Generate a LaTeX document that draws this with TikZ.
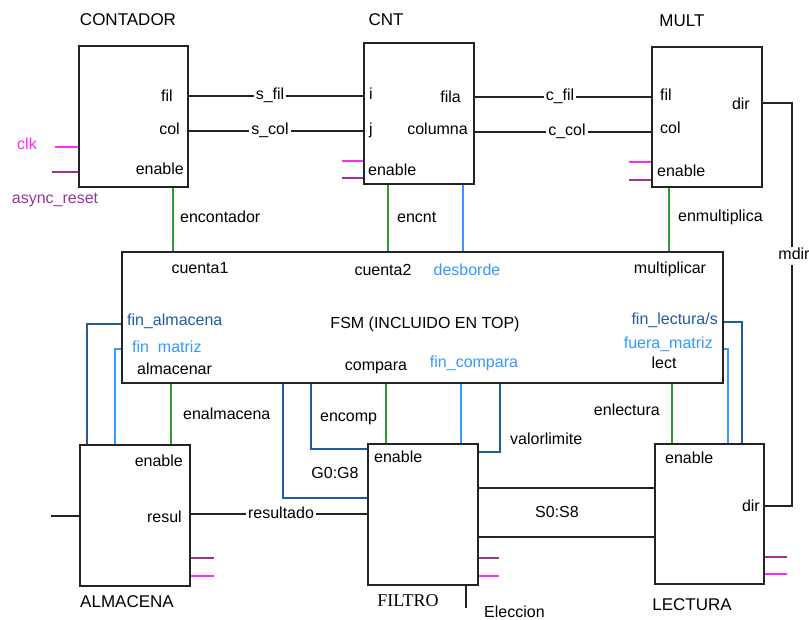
\documentclass[tikz,border=0pt]{standalone}
\usepackage{fontspec}
\setmainfont{Liberation Sans}
\newfontfamily\serifft{Liberation Serif}
\definecolor{mag}{RGB}{255,40,255}
\definecolor{pur}{RGB}{153,51,153}
\definecolor{grn}{RGB}{51,153,51}
\definecolor{lblue}{RGB}{51,153,255}
\definecolor{dblue}{RGB}{36,90,160}
\definecolor{lin}{RGB}{35,35,35}
\begin{document}
\begin{tikzpicture}[x=1pt,y=-1pt,
  every node/.style={font=\fontsize{16}{18}\selectfont, inner sep=0pt, text height=11pt, text depth=3pt},
  box/.style={draw=lin, line width=2pt, fill=white},
  wire/.style={draw=lin, line width=1.9pt},
  cw/.style={line width=1.9pt},
  wl/.style={inner sep=2pt},
  ttl/.style={font=\fontsize{17}{19}\selectfont}]
\useasboundingbox (0,0) rectangle (809,620);
% boxes
\node[box,minimum width=109pt,minimum height=141pt] (contador) at (133.5,116.5) {};
\node[box,minimum width=110pt,minimum height=141pt] (cnt) at (419,113.5) {};
\node[box,minimum width=110pt,minimum height=140pt] (mult) at (707,117) {};
\node[box,minimum width=601pt,minimum height=131pt] (fsm) at (422.5,317.5) {};
\node[box,minimum width=110pt,minimum height=141pt] (almacena) at (135,515.5) {};
\node[box,minimum width=110pt,minimum height=141pt] (filtro) at (423,514.5) {};
\node[box,minimum width=109pt,minimum height=140pt] (lectura) at (709.5,514) {};
% titles
\node[ttl] (tcontador) at (128,22) {CONTADOR};
\node[ttl] (tcnt) at (386,22) {CNT};
\node[ttl] (tmult) at (682,23) {MULT};
\node[ttl] (talmacena) at (127,603) {ALMACENA};
\node[font=\serifft\fontsize{18}{20}\selectfont] (tfiltro) at (408,602) {FILTRO};
\node[ttl] (tlectura) at (692,606) {LECTURA};
% port labels
\node[anchor=east] (p1) at (173,98) {fil};
\node[anchor=east] (p2) at (180,131) {col};
\node[anchor=east] (p3) at (184,171) {enable};
\node[anchor=west] (p4) at (369,96) {i};
\node[anchor=west] (p5) at (369,131) {j};
\node[anchor=west] (p6) at (368,172) {enable};
\node[anchor=east] (p7) at (461,99) {fila};
\node[anchor=east] (p8) at (468,131) {columna};
\node[anchor=west] (p9) at (660,97) {fil};
\node[anchor=west] (p10) at (660,130) {col};
\node[anchor=west] (p11) at (657,173) {enable};
\node[anchor=east] (p12) at (750,106) {dir};
\node[anchor=east] (p13) at (183,462) {enable};
\node[anchor=east] (p14) at (182,518) {resul};
\node[anchor=west] (p15) at (374,458) {enable};
\node[anchor=west] (p16) at (665,459) {enable};
\node[anchor=east] (p17) at (760,507) {dir};
% FSM labels
\node (f1) at (200,270) {cuenta1};
\node (f2) at (383,272) {cuenta2};
\node[text=lblue] (f3) at (467,272) {desborde};
\node (f4) at (670,270) {multiplicar};
\node (f5) at (425,325) {FSM (INCLUIDO EN TOP)};
\node[anchor=west,text=dblue] (f6) at (127,322) {fin\_almacena};
\node[anchor=west,text=lblue] (f7) at (132,349) {fin\ \ matriz};
\node[anchor=west] (f8) at (137,370) {almacenar};
\node (f9) at (376,367) {compara};
\node[text=lblue] (f10) at (474,364) {fin\_compara};
\node[anchor=east,text=dblue] (f11) at (718,321) {fin\_lectura/s};
\node[anchor=east,text=lblue] (f12) at (713,345) {fuera\_matriz};
\node (f13) at (664,365) {lect};
% other labels
\node[text=mag] (clk) at (27,146) {clk};
\node[text=pur] (ares) at (55,200) {async\_reset};
\node[anchor=west] (l1) at (180,219) {encontador};
\node[anchor=west] (l2) at (397,219) {encnt};
\node[anchor=west] (l3) at (678,218) {enmultiplica};
\node[anchor=west] (l4) at (183,415) {enalmacena};
\node[anchor=west] (l5) at (320,417) {encomp};
\node[anchor=east] (l6) at (660,412) {enlectura};
\node[anchor=west] (l7) at (510,440) {valorlimite};
\node (l8) at (335,474) {G0:G8};
\node (l9) at (557,513) {S0:S8};
\node[anchor=west] (l10) at (484,613) {Eleccion};
% top wires
\node[wl] (sfil) at (270,96) {s\_fil};
\node[wl] (scol) at (270,131) {s\_col};
\node[wl] (cfil) at (560,97) {c\_fil};
\node[wl] (ccol) at (567,132) {c\_col};
\draw[wire] (contador.east |- sfil) -- (sfil.west);
\draw[wire] (sfil.east) -- (cnt.west |- sfil);
\draw[wire] (contador.east |- scol) -- (scol.west);
\draw[wire] (scol.east) -- (cnt.west |- scol);
\draw[wire] (cnt.east |- cfil) -- (cfil.west);
\draw[wire] (cfil.east) -- (mult.west |- cfil);
\draw[wire] (cnt.east |- ccol) -- (ccol.west);
\draw[wire] (ccol.east) -- (mult.west |- ccol);
% mdir
\node[wl] (mdir) at (794,256) {mdir};
\draw[wire] ([yshift=-57pt]mult.north east) -| ([xshift=-2pt]mdir.north);
\draw[wire] ([xshift=-2pt]mdir.south) |- ([yshift=8pt]lectura.east);
% clock / reset stubs
\draw[mag, cw] ([yshift=41pt]contador.south west) -- ++(-23,0);
\draw[pur, cw] ([yshift=16pt]contador.south west) -- ++(-26,0);
\draw[mag, cw] ([yshift=24pt]cnt.south west) -- ++(-21,0);
\draw[pur, cw] ([yshift=7pt]cnt.south west) -- ++(-21,0);
\draw[mag, cw] ([yshift=26pt]mult.south west) -- ++(-22,0);
\draw[pur, cw] ([yshift=8pt]mult.south west) -- ++(-22,0);
\draw[pur, cw] ([yshift=29pt]almacena.south east) -- ++(23,0);
\draw[mag, cw] ([yshift=11pt]almacena.south east) -- ++(23,0);
\draw[pur, cw] ([yshift=28pt]filtro.south east) -- ++(20,0);
\draw[mag, cw] ([yshift=10pt]filtro.south east) -- ++(20,0);
\draw[pur, cw] ([yshift=28pt]lectura.south east) -- ++(22,0);
\draw[mag, cw] ([yshift=11pt]lectura.south east) -- ++(22,0);
% enables from top boxes
\draw[grn, cw] ([xshift=95pt]contador.south west) coordinate (e1) -- (e1 |- fsm.north);
\draw[grn, cw] ([xshift=25pt]cnt.south west) coordinate (e2) -- (e2 |- fsm.north);
\draw[lblue, cw] ([xshift=100pt]cnt.south west) coordinate (e3) -- (e3 |- fsm.north);
\draw[grn, cw] ([xshift=18pt]mult.south west) coordinate (e4) -- (e4 |- fsm.north);
% FSM to ALMACENA
\draw[dblue, cw] ([yshift=-73pt]fsm.north west) -| ([xshift=8pt]almacena.north west);
\draw[lblue, cw] ([yshift=-98pt]fsm.north west) -| ([xshift=36pt]almacena.north west);
\draw[grn, cw] ([xshift=50pt]fsm.south west) coordinate (e5) -- (e5 |- almacena.north);
% FSM to FILTRO
\draw[dblue, cw] ([xshift=162pt]fsm.south west) |- ([yshift=-55pt]filtro.north west);
\draw[dblue, cw] ([xshift=190pt]fsm.south west) |- ([yshift=-6pt]filtro.north west);
\draw[grn, cw] ([xshift=265pt]fsm.south west) coordinate (e6) -- (e6 |- filtro.north);
\draw[lblue, cw] ([xshift=340pt]fsm.south west) coordinate (e7) -- (e7 |- filtro.north);
\draw[dblue, cw] ([xshift=379pt]fsm.south west) |- ([yshift=-9pt]filtro.north east);
% FSM to LECTURA
\draw[grn, cw] ([xshift=551pt]fsm.south west) coordinate (e8) -- (e8 |- lectura.north);
\draw[lblue, cw] ([yshift=-98pt]fsm.north east) -| ([xshift=74pt]lectura.north west);
\draw[dblue, cw] ([yshift=-71pt]fsm.north east) -| ([xshift=88pt]lectura.north west);
% ALMACENA / FILTRO / LECTURA wires
\draw[wire] ([yshift=-72pt]almacena.north west) -- ++(-28,0);
\node[wl] (res) at (281,514) {resultado};
\draw[wire] (almacena.east |- res) -- (res.west);
\draw[wire] (res.east) -- (filtro.west |- res);
\draw[wire] ([yshift=-45pt]filtro.north east) coordinate (s1) -- (s1 -| lectura.west);
\draw[wire] ([yshift=-94pt]filtro.north east) coordinate (s2) -- (s2 -| lectura.west);
\draw[wire] ([xshift=99pt]filtro.south west) -- ++(0,22);
\end{tikzpicture}
\end{document}
